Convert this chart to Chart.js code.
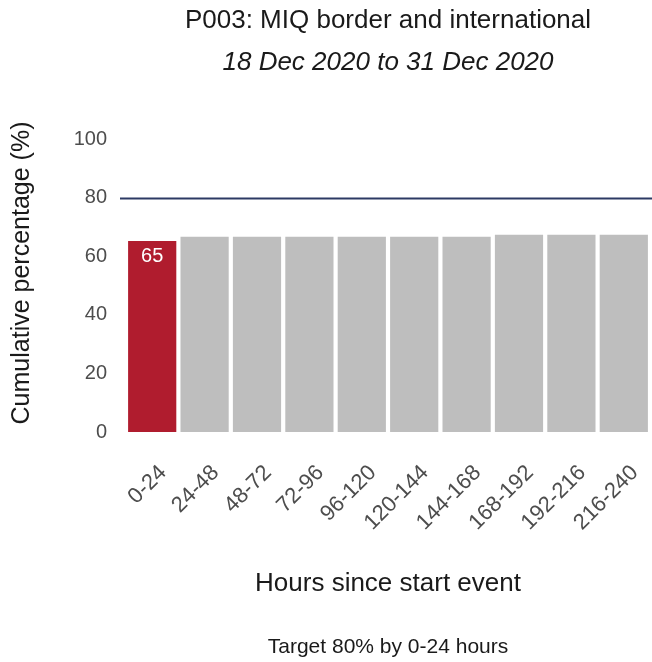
<!DOCTYPE html>
<html>
<head>
<meta charset="utf-8">
<script src="https://cdn.jsdelivr.net/npm/chart.js@4"></script>
<style>
html,body{margin:0;padding:0;background:#fff;}
#wrap{width:652px;height:662px;position:relative;}
</style>
</head>
<body>
<div id="wrap"><canvas id="c" width="652" height="662"></canvas></div>
<script>
const categories = ["0-24","24-48","48-72","72-96","96-120","120-144","144-168","168-192","192-216","216-240"];
const values = [65.2, 66.6, 66.6, 66.6, 66.6, 66.6, 66.6, 67.3, 67.3, 67.3];
const highlightLabel = ["65"];
const targetValue = 80;
const titleText = "P003: MIQ border and international";
const subtitleText = "18 Dec 2020 to 31 Dec 2020";
const footerText = "Target 80% by 0-24 hours";
const yTitleText = "Cumulative percentage (%)";
const xTitleText = "Hours since start event";
const yTicks = [0, 20, 40, 60, 80, 100];

const FONT = "'Liberation Sans', Arial, sans-serif";
const barColors = values.map((v, i) => i === 0 ? "#b01c2e" : "#bebebe");

const extras = {
  id: "extras",
  afterDatasetsDraw(chart) {
    const ctx = chart.ctx;
    const y = chart.scales.y;
    const ca = chart.chartArea;
    const py = Math.round(y.getPixelForValue(targetValue)) + 0.5;
    ctx.save();
    ctx.strokeStyle = "#2c3a64";
    ctx.lineWidth = 2;
    ctx.beginPath();
    ctx.moveTo(ca.left - 6, py);
    ctx.lineTo(chart.width, py);
    ctx.stroke();
    const meta = chart.getDatasetMeta(0);
    const bar = meta.data[0];
    ctx.fillStyle = "#ffffff";
    ctx.font = "20px " + FONT;
    ctx.textAlign = "center";
    ctx.textBaseline = "middle";
    ctx.fillText(highlightLabel[0], bar.x, bar.y + 16);
    const cx = (ca.left + ca.right) / 2;
    ctx.fillStyle = "#1a1a1a";
    ctx.font = "26px " + FONT;
    ctx.fillText(titleText, cx, 21);
    ctx.font = "italic 26px " + FONT;
    ctx.fillText(subtitleText, cx, 63);
    ctx.font = "21px " + FONT;
    ctx.fillText(footerText, cx, 647);
    // y axis title
    ctx.save();
    ctx.translate(22, 273);
    ctx.rotate(-Math.PI / 2);
    ctx.font = "25px " + FONT;
    ctx.fillText(yTitleText, 0, 0);
    ctx.restore();
    ctx.restore();
  }
};

new Chart(document.getElementById("c"), {
  type: "bar",
  data: {
    labels: categories,
    datasets: [{
      data: values,
      backgroundColor: barColors,
      borderWidth: 0,
      barPercentage: 0.92,
      categoryPercentage: 1.0
    }]
  },
  options: {
    responsive: false,
    animation: false,
    devicePixelRatio: 1,
    layout: { padding: { top: 139, right: 2, bottom: 63, left: 0 } },
    plugins: { legend: { display: false }, tooltip: { enabled: false } },
    scales: {
      x: {
        grid: { display: false, drawTicks: false },
        border: { display: false },
        ticks: {
          color: "#4d4d4d",
          font: { family: FONT, size: 22 },
          maxRotation: 45, minRotation: 45,
          padding: 28,
          labelOffset: 11,
          autoSkip: false
        },
        title: {
          display: true,
          text: xTitleText,
          color: "#1a1a1a",
          font: { family: FONT, size: 26 },
          padding: { top: 4, bottom: 0 }
        },
        afterFit(scale) {
          scale.height = 167;
          scale.paddingLeft = 0;
          scale.paddingRight = 0;
        }
      },
      y: {
        min: 0, max: 100,
        afterBuildTicks(scale) { scale.ticks = yTicks.map(v => ({ value: v })); },
        grid: { display: false, drawTicks: false },
        border: { display: false },
        ticks: {
          color: "#4d4d4d",
          font: { family: FONT, size: 20 },
          padding: 19
        },
        title: { display: false },
        afterFit(scale) {
          scale.width = 126;
          scale.paddingTop = 0;
          scale.paddingBottom = 0;
        }
      }
    }
  },
  plugins: [extras]
});
</script>
</body>
</html>
